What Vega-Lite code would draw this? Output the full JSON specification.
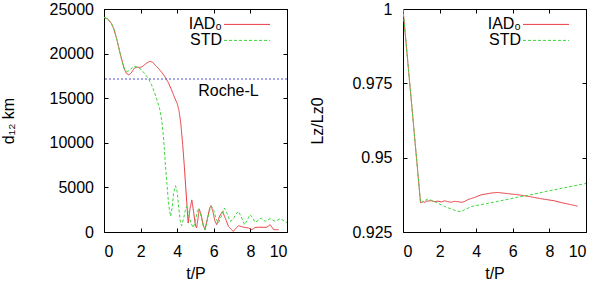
{
  "$schema": "https://vega.github.io/schema/vega-lite/v6.json",
  "padding": {"left": -1, "top": 0, "right": 5, "bottom": 0},
  "spacing": 21,
  "config": {
    "font": "Liberation Sans",
    "view": {"stroke": "black", "strokeWidth": 1},
    "axis": {"grid": false, "domain": false, "tickColor": "black", "tickSize": 4, "tickWidth": 1, "labelFont": "Liberation Sans", "labelFontSize": 16, "labelColor": "black", "titleFont": "Liberation Sans", "titleFontSize": 16, "titleFontWeight": "normal", "titleColor": "black", "labelPadding": 10},
    "legend": {"orient": "none", "legendX": 116, "legendY": 7.4, "title": null, "symbolType": "M-1,0H10.5", "symbolSize": 64, "symbolStrokeWidth": 1, "labelAlign": "right", "labelOffset": -14, "labelFontSize": 16, "labelFont": "Liberation Sans", "labelColor": "black", "rowPadding": 0, "padding": 0}
  },
  "datasets": {
    "d12": [
      {"t": 0, "d": 24050, "s": "IAD₀"}, {"t": 0.2, "d": 23900, "s": "IAD₀"}, {"t": 0.4, "d": 23400, "s": "IAD₀"}, {"t": 0.55, "d": 22700, "s": "IAD₀"}, {"t": 0.7, "d": 21600, "s": "IAD₀"}, {"t": 0.85, "d": 20300, "s": "IAD₀"}, {"t": 1.0, "d": 19100, "s": "IAD₀"}, {"t": 1.1, "d": 18300, "s": "IAD₀"}, {"t": 1.22, "d": 17800, "s": "IAD₀"}, {"t": 1.35, "d": 17620, "s": "IAD₀"}, {"t": 1.5, "d": 17850, "s": "IAD₀"}, {"t": 1.65, "d": 18350, "s": "IAD₀"}, {"t": 1.8, "d": 18500, "s": "IAD₀"}, {"t": 1.95, "d": 18430, "s": "IAD₀"}, {"t": 2.1, "d": 18550, "s": "IAD₀"}, {"t": 2.3, "d": 18900, "s": "IAD₀"}, {"t": 2.5, "d": 19130, "s": "IAD₀"}, {"t": 2.65, "d": 19050, "s": "IAD₀"}, {"t": 2.8, "d": 18700, "s": "IAD₀"}, {"t": 2.96, "d": 18380, "s": "IAD₀"}, {"t": 3.15, "d": 17900, "s": "IAD₀"}, {"t": 3.32, "d": 17440, "s": "IAD₀"}, {"t": 3.5, "d": 16800, "s": "IAD₀"}, {"t": 3.69, "d": 15950, "s": "IAD₀"}, {"t": 3.85, "d": 15100, "s": "IAD₀"}, {"t": 4.0, "d": 14400, "s": "IAD₀"}, {"t": 4.1, "d": 13600, "s": "IAD₀"}, {"t": 4.2, "d": 12100, "s": "IAD₀"}, {"t": 4.3, "d": 9800, "s": "IAD₀"}, {"t": 4.39, "d": 7360, "s": "IAD₀"}, {"t": 4.46, "d": 5200, "s": "IAD₀"}, {"t": 4.52, "d": 3400, "s": "IAD₀"}, {"t": 4.6, "d": 1000, "s": "IAD₀"}, {"t": 4.7, "d": 2600, "s": "IAD₀"}, {"t": 4.8, "d": 3600, "s": "IAD₀"}, {"t": 4.9, "d": 2200, "s": "IAD₀"}, {"t": 5.0, "d": 700, "s": "IAD₀"}, {"t": 5.06, "d": 450, "s": "IAD₀"}, {"t": 5.13, "d": 1400, "s": "IAD₀"}, {"t": 5.2, "d": 2580, "s": "IAD₀"}, {"t": 5.3, "d": 2000, "s": "IAD₀"}, {"t": 5.42, "d": 800, "s": "IAD₀"}, {"t": 5.52, "d": 260, "s": "IAD₀"}, {"t": 5.65, "d": 1500, "s": "IAD₀"}, {"t": 5.78, "d": 2700, "s": "IAD₀"}, {"t": 5.85, "d": 2950, "s": "IAD₀"}, {"t": 5.95, "d": 2300, "s": "IAD₀"}, {"t": 6.05, "d": 1300, "s": "IAD₀"}, {"t": 6.16, "d": 820, "s": "IAD₀"}, {"t": 6.3, "d": 1700, "s": "IAD₀"}, {"t": 6.47, "d": 2310, "s": "IAD₀"}, {"t": 6.6, "d": 1700, "s": "IAD₀"}, {"t": 6.8, "d": 630, "s": "IAD₀"}, {"t": 6.95, "d": 300, "s": "IAD₀"}, {"t": 7.07, "d": 70, "s": "IAD₀"}, {"t": 7.2, "d": 400, "s": "IAD₀"}, {"t": 7.35, "d": 700, "s": "IAD₀"}, {"t": 7.6, "d": 550, "s": "IAD₀"}, {"t": 7.9, "d": 450, "s": "IAD₀"}, {"t": 8.08, "d": 260, "s": "IAD₀"}, {"t": 8.25, "d": 500, "s": "IAD₀"}, {"t": 8.45, "d": 540, "s": "IAD₀"}, {"t": 8.7, "d": 520, "s": "IAD₀"}, {"t": 8.9, "d": 540, "s": "IAD₀"}, {"t": 9.08, "d": 820, "s": "IAD₀"}, {"t": 9.27, "d": 260, "s": "IAD₀"}, {"t": 9.54, "d": 260, "s": "IAD₀"},
      {"t": 0, "d": 24050, "s": "STD"}, {"t": 0.2, "d": 23900, "s": "STD"}, {"t": 0.4, "d": 23400, "s": "STD"}, {"t": 0.55, "d": 22700, "s": "STD"}, {"t": 0.7, "d": 21600, "s": "STD"}, {"t": 0.85, "d": 20300, "s": "STD"}, {"t": 1.0, "d": 19000, "s": "STD"}, {"t": 1.1, "d": 18400, "s": "STD"}, {"t": 1.2, "d": 18050, "s": "STD"}, {"t": 1.31, "d": 18000, "s": "STD"}, {"t": 1.45, "d": 18250, "s": "STD"}, {"t": 1.6, "d": 18520, "s": "STD"}, {"t": 1.7, "d": 18560, "s": "STD"}, {"t": 1.85, "d": 18450, "s": "STD"}, {"t": 2.05, "d": 18190, "s": "STD"}, {"t": 2.2, "d": 17800, "s": "STD"}, {"t": 2.41, "d": 17260, "s": "STD"}, {"t": 2.6, "d": 16500, "s": "STD"}, {"t": 2.77, "d": 15580, "s": "STD"}, {"t": 2.9, "d": 14800, "s": "STD"}, {"t": 3.05, "d": 13710, "s": "STD"}, {"t": 3.15, "d": 12600, "s": "STD"}, {"t": 3.23, "d": 11100, "s": "STD"}, {"t": 3.3, "d": 9300, "s": "STD"}, {"t": 3.36, "d": 7360, "s": "STD"}, {"t": 3.44, "d": 5400, "s": "STD"}, {"t": 3.51, "d": 3620, "s": "STD"}, {"t": 3.58, "d": 2400, "s": "STD"}, {"t": 3.64, "d": 1750, "s": "STD"}, {"t": 3.72, "d": 2700, "s": "STD"}, {"t": 3.8, "d": 4300, "s": "STD"}, {"t": 3.91, "d": 5190, "s": "STD"}, {"t": 4.0, "d": 4500, "s": "STD"}, {"t": 4.1, "d": 2400, "s": "STD"}, {"t": 4.17, "d": 1200, "s": "STD"}, {"t": 4.24, "d": 700, "s": "STD"}, {"t": 4.35, "d": 1500, "s": "STD"}, {"t": 4.45, "d": 2500, "s": "STD"}, {"t": 4.51, "d": 2870, "s": "STD"}, {"t": 4.6, "d": 2200, "s": "STD"}, {"t": 4.75, "d": 1000, "s": "STD"}, {"t": 4.88, "d": 480, "s": "STD"}, {"t": 5.0, "d": 1300, "s": "STD"}, {"t": 5.1, "d": 2300, "s": "STD"}, {"t": 5.19, "d": 2690, "s": "STD"}, {"t": 5.3, "d": 1800, "s": "STD"}, {"t": 5.42, "d": 700, "s": "STD"}, {"t": 5.52, "d": 260, "s": "STD"}, {"t": 5.62, "d": 1100, "s": "STD"}, {"t": 5.75, "d": 2300, "s": "STD"}, {"t": 5.88, "d": 2870, "s": "STD"}, {"t": 6.0, "d": 2400, "s": "STD"}, {"t": 6.12, "d": 1500, "s": "STD"}, {"t": 6.25, "d": 1000, "s": "STD"}, {"t": 6.4, "d": 1700, "s": "STD"}, {"t": 6.58, "d": 2690, "s": "STD"}, {"t": 6.72, "d": 2100, "s": "STD"}, {"t": 6.89, "d": 1190, "s": "STD"}, {"t": 7.05, "d": 1400, "s": "STD"}, {"t": 7.2, "d": 2000, "s": "STD"}, {"t": 7.35, "d": 2310, "s": "STD"}, {"t": 7.5, "d": 1700, "s": "STD"}, {"t": 7.68, "d": 820, "s": "STD"}, {"t": 7.82, "d": 1300, "s": "STD"}, {"t": 7.98, "d": 1940, "s": "STD"}, {"t": 8.12, "d": 1600, "s": "STD"}, {"t": 8.26, "d": 1080, "s": "STD"}, {"t": 8.42, "d": 1300, "s": "STD"}, {"t": 8.59, "d": 1570, "s": "STD"}, {"t": 8.8, "d": 1200, "s": "STD"}, {"t": 9.08, "d": 1490, "s": "STD"}, {"t": 9.35, "d": 1200, "s": "STD"}, {"t": 9.63, "d": 1490, "s": "STD"}, {"t": 9.85, "d": 1250, "s": "STD"}, {"t": 10.0, "d": 1050, "s": "STD"}
    ],
    "lz": [
      {"t": 0, "l": 1, "s": "IAD₀"}, {"t": 0.96, "l": 0.9348, "s": "IAD₀"}, {"t": 1.1, "l": 0.9352, "s": "IAD₀"}, {"t": 1.17, "l": 0.935, "s": "IAD₀"}, {"t": 1.3, "l": 0.9354, "s": "IAD₀"}, {"t": 1.55, "l": 0.9355, "s": "IAD₀"}, {"t": 1.75, "l": 0.9352, "s": "IAD₀"}, {"t": 1.91, "l": 0.9354, "s": "IAD₀"}, {"t": 2.1, "l": 0.9351, "s": "IAD₀"}, {"t": 2.27, "l": 0.9355, "s": "IAD₀"}, {"t": 2.45, "l": 0.9352, "s": "IAD₀"}, {"t": 2.64, "l": 0.935, "s": "IAD₀"}, {"t": 2.8, "l": 0.9353, "s": "IAD₀"}, {"t": 3.0, "l": 0.9352, "s": "IAD₀"}, {"t": 3.2, "l": 0.935, "s": "IAD₀"}, {"t": 3.35, "l": 0.9352, "s": "IAD₀"}, {"t": 3.55, "l": 0.9359, "s": "IAD₀"}, {"t": 3.7, "l": 0.9362, "s": "IAD₀"}, {"t": 3.9, "l": 0.9366, "s": "IAD₀"}, {"t": 4.27, "l": 0.9375, "s": "IAD₀"}, {"t": 4.82, "l": 0.9381, "s": "IAD₀"}, {"t": 5.17, "l": 0.9383, "s": "IAD₀"}, {"t": 5.73, "l": 0.9379, "s": "IAD₀"}, {"t": 6.45, "l": 0.9374, "s": "IAD₀"}, {"t": 7.0, "l": 0.9368, "s": "IAD₀"}, {"t": 7.73, "l": 0.936, "s": "IAD₀"}, {"t": 8.27, "l": 0.9355, "s": "IAD₀"}, {"t": 8.64, "l": 0.9349, "s": "IAD₀"}, {"t": 9.54, "l": 0.9337, "s": "IAD₀"},
      {"t": 0, "l": 1, "s": "STD"}, {"t": 0.96, "l": 0.9348, "s": "STD"}, {"t": 1.36, "l": 0.9361, "s": "STD"}, {"t": 1.73, "l": 0.9352, "s": "STD"}, {"t": 2.27, "l": 0.9336, "s": "STD"}, {"t": 2.82, "l": 0.9323, "s": "STD"}, {"t": 3.17, "l": 0.9318, "s": "STD"}, {"t": 3.36, "l": 0.9325, "s": "STD"}, {"t": 3.73, "l": 0.9335, "s": "STD"}, {"t": 3.9, "l": 0.9338, "s": "STD"}, {"t": 4.45, "l": 0.9344, "s": "STD"}, {"t": 5.18, "l": 0.9353, "s": "STD"}, {"t": 6.27, "l": 0.9367, "s": "STD"}, {"t": 6.81, "l": 0.9373, "s": "STD"}, {"t": 8.09, "l": 0.939, "s": "STD"}, {"t": 9.0, "l": 0.9401, "s": "STD"}, {"t": 9.91, "l": 0.9412, "s": "STD"}, {"t": 10.0, "l": 0.9414, "s": "STD"}
    ],
    "roche": [{"d": 17150, "label": "Roche-L"}]
  },
  "hconcat": [
    {
      "width": 183,
      "height": 223,
      "layer": [
        {
          "data": {"name": "d12"},
          "mark": {"type": "line", "strokeWidth": 1, "clip": true},
          "encoding": {
            "x": {"field": "t", "type": "quantitative", "scale": {"domain": [0, 10], "nice": false}, "axis": {"orient": "bottom", "title": "t/P", "values": [0, 2, 4, 6, 8, 10], "ticks": false, "tickSize": 0, "labelPadding": 11, "titlePadding": 6}},
            "y": {"field": "d", "type": "quantitative", "scale": {"domain": [0, 25000], "nice": false}, "axis": {"orient": "left", "title": "d₁₂ km", "values": [0, 5000, 10000, 15000, 20000, 25000], "format": "d", "ticks": false, "tickSize": 0, "labelPadding": 10.5, "titlePadding": 33}},
            "color": {"field": "s", "type": "nominal", "scale": {"domain": ["IAD₀", "STD"], "range": ["#e8383e", "#3cd83c"]}},
            "strokeDash": {"field": "s", "type": "nominal", "scale": {"domain": ["IAD₀", "STD"], "range": [[1, 0], [3, 2]]}}
          }
        },
        {
          "data": {"name": "roche"},
          "mark": {"type": "rule", "color": "#5050d0", "strokeDash": [2, 2], "strokeWidth": 1},
          "encoding": {
            "y": {"field": "d", "type": "quantitative", "axis": {"orient": "right", "offset": -183, "labels": false, "labelPadding": 0, "title": null, "values": [0, 5000, 10000, 15000, 20000, 25000]}}
          }
        },
        {
          "data": {"name": "roche"},
          "mark": {"type": "text", "fontSize": 16, "font": "Liberation Sans", "color": "black"},
          "encoding": {
            "x": {"datum": 6.8, "axis": {"orient": "top", "offset": -223, "labels": false, "labelPadding": 0, "title": null, "values": [0, 2, 4, 6, 8, 10]}},
            "y": {"datum": 15770, "axis": {"orient": "left", "offset": -183, "labels": false, "labelPadding": 0, "title": null, "values": [0, 5000, 10000, 15000, 20000, 25000]}},
            "text": {"field": "label"}
          }
        },
        {
          "data": {"name": "d12"},
          "mark": {"type": "line", "opacity": 0},
          "encoding": {
            "x": {"field": "t", "type": "quantitative", "axis": {"orient": "bottom", "offset": -223, "labels": false, "labelPadding": 0, "title": null, "values": [0, 2, 4, 6, 8, 10]}},
            "y": {"field": "d", "type": "quantitative", "axis": null},
            "detail": {"field": "s"}
          }
        }
      ],
      "resolve": {"axis": {"x": "independent", "y": "independent"}}
    },
    {
      "width": 183,
      "height": 223,
      "layer": [
        {
          "data": {"name": "lz"},
          "mark": {"type": "line", "strokeWidth": 1, "clip": true},
          "encoding": {
            "x": {"field": "t", "type": "quantitative", "scale": {"domain": [0, 10], "nice": false}, "axis": {"orient": "bottom", "title": "t/P", "values": [0, 2, 4, 6, 8, 10], "ticks": false, "tickSize": 0, "labelPadding": 11, "titlePadding": 6}},
            "y": {"field": "l", "type": "quantitative", "scale": {"domain": [0.925, 1], "nice": false, "zero": false}, "axis": {"orient": "left", "title": "Lz/Lz0", "values": [0.925, 0.95, 0.975, 1], "format": ".3~g", "ticks": false, "tickSize": 0, "labelPadding": 11, "titlePadding": 26}},
            "color": {"field": "s", "type": "nominal", "scale": {"domain": ["IAD₀", "STD"], "range": ["#e8383e", "#3cd83c"]}},
            "strokeDash": {"field": "s", "type": "nominal", "scale": {"domain": ["IAD₀", "STD"], "range": [[1, 0], [3, 2]]}}
          }
        },
        {
          "data": {"name": "lz"},
          "mark": {"type": "line", "opacity": 0},
          "encoding": {
            "x": {"field": "t", "type": "quantitative", "axis": {"orient": "top", "offset": -223, "labels": false, "labelPadding": 0, "title": null, "values": [0, 2, 4, 6, 8, 10]}},
            "y": {"field": "l", "type": "quantitative", "axis": {"orient": "right", "offset": -183, "labels": false, "labelPadding": 0, "title": null, "values": [0.925, 0.95, 0.975, 1]}},
            "detail": {"field": "s"}
          }
        },
        {
          "data": {"name": "lz"},
          "mark": {"type": "line", "opacity": 0},
          "encoding": {
            "x": {"field": "t", "type": "quantitative", "axis": {"orient": "bottom", "offset": -223, "labels": false, "labelPadding": 0, "title": null, "values": [0, 2, 4, 6, 8, 10]}},
            "y": {"field": "l", "type": "quantitative", "axis": {"orient": "left", "offset": -183, "labels": false, "labelPadding": 0, "title": null, "values": [0.925, 0.95, 0.975, 1]}},
            "detail": {"field": "s"}
          }
        }
      ],
      "resolve": {"axis": {"x": "independent", "y": "independent"}}
    }
  ],
  "resolve": {"scale": {"color": "independent", "strokeDash": "independent"}, "legend": {"color": "independent", "strokeDash": "independent"}}
}
